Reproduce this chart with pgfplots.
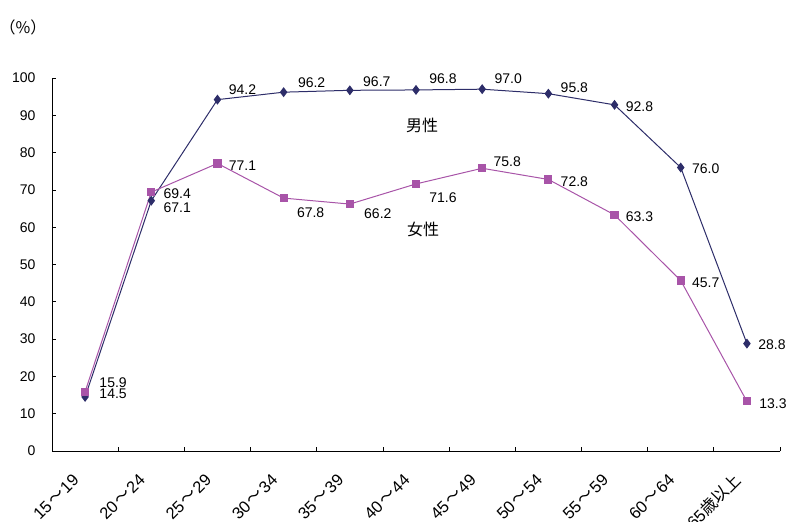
\documentclass[border=0pt]{standalone}
\usepackage{fontspec}
\setmainfont{Liberation Sans}
\newfontfamily\cjk{Noto Sans CJK JP}
\usepackage{pgfplots}
\usepackage{pgfplotstable}
\pgfplotsset{compat=1.18}

\definecolor{male}{RGB}{45,45,105}
\definecolor{female}{RGB}{168,84,168}

% labour force participation rate by age group
\pgfplotstableread{
x male female
0 14.5 15.9
1 67.1 69.4
2 94.2 77.1
3 96.2 67.8
4 96.7 66.2
5 96.8 71.6
6 97.0 75.8
7 95.8 72.8
8 92.8 63.3
9 76.0 45.7
10 28.8 13.3
}\rates

\newcommand{\til}{\hspace{1.5bp}{\cjk ～}\hspace{1.5bp}}

\begin{document}
\begin{tikzpicture}[lbl/.style={font=\fontsize{14bp}{16bp}\selectfont, inner sep=0pt},
  cat/.style={font=\fontsize{16.5bp}{18bp}\selectfont, inner sep=0pt, anchor=east, rotate=45}]
\useasboundingbox (0,0) rectangle (788bp,-522bp);
\begin{axis}[
scale only axis, width=728bp, height=373bp,
anchor=south west, at={(52bp,-451bp)},
xmin=-0.5, xmax=10.5, ymin=0, ymax=100,
axis x line=bottom, axis y line=left,
axis line style={-, line width=1bp, black},
tick align=inside, major tick length=4.5bp,
every tick/.style={black, line width=0.8bp},
ytick={0,10,...,100},
xtick={-0.5,0.5,...,10.5}, xticklabels={},
y tick label style={font=\fontsize{14bp}{16bp}\selectfont, xshift=-13bp},
/pgf/number format/assume math mode=true,
clip=false,
]
\addplot[color=male, line width=1bp, mark=diamond*, mark size=4.2bp, mark options={fill=male}] table[x=x, y=male] {\rates};
\addplot[color=female, line width=1bp, mark=square*, mark size=3.6bp, mark options={fill=female}] table[x=x, y=female] {\rates};

% category names under the axis
\node[cat] at ([xshift=-9bp,yshift=-26bp]axis cs:0,0) {15\til 19};
\node[cat] at ([xshift=-9bp,yshift=-26bp]axis cs:1,0) {20\til 24};
\node[cat] at ([xshift=-9bp,yshift=-26bp]axis cs:2,0) {25\til 29};
\node[cat] at ([xshift=-9bp,yshift=-26bp]axis cs:3,0) {30\til 34};
\node[cat] at ([xshift=-9bp,yshift=-26bp]axis cs:4,0) {35\til 39};
\node[cat] at ([xshift=-9bp,yshift=-26bp]axis cs:5,0) {40\til 44};
\node[cat] at ([xshift=-9bp,yshift=-26bp]axis cs:6,0) {45\til 49};
\node[cat] at ([xshift=-9bp,yshift=-26bp]axis cs:7,0) {50\til 54};
\node[cat] at ([xshift=-9bp,yshift=-26bp]axis cs:8,0) {55\til 59};
\node[cat] at ([xshift=-9bp,yshift=-26bp]axis cs:9,0) {60\til 64};
\node[cat] at ([xshift=-9bp,yshift=-26bp]axis cs:10,0) {65{\cjk 歳以上}};

% male value labels
\node[lbl, xshift=28bp, yshift=3bp] at (axis cs:0,14.5) {14.5};
\node[lbl, xshift=26bp, yshift=-7bp] at (axis cs:1,67.1) {67.1};
\node[lbl, xshift=25bp, yshift=10bp] at (axis cs:2,94.2) {94.2};
\node[lbl, xshift=28bp, yshift=9bp] at (axis cs:3,96.2) {96.2};
\node[lbl, xshift=27bp, yshift=9bp] at (axis cs:4,96.7) {96.7};
\node[lbl, xshift=27bp, yshift=11bp] at (axis cs:5,96.8) {96.8};
\node[lbl, xshift=26bp, yshift=11bp] at (axis cs:6,97.0) {97.0};
\node[lbl, xshift=26bp, yshift=6bp] at (axis cs:7,95.8) {95.8};
\node[lbl, xshift=25bp, yshift=-2bp] at (axis cs:8,92.8) {92.8};
\node[lbl, xshift=25bp, yshift=-1bp] at (axis cs:9,76.0) {76.0};
\node[lbl, xshift=25bp, yshift=-1bp] at (axis cs:10,28.8) {28.8};
% female value labels
\node[lbl, xshift=28bp, yshift=9bp] at (axis cs:0,15.9) {15.9};
\node[lbl, xshift=26bp, yshift=-2bp] at (axis cs:1,69.4) {69.4};
\node[lbl, xshift=25bp, yshift=-2bp] at (axis cs:2,77.1) {77.1};
\node[lbl, xshift=27bp, yshift=-15bp] at (axis cs:3,67.8) {67.8};
\node[lbl, xshift=28bp, yshift=-10bp] at (axis cs:4,66.2) {66.2};
\node[lbl, xshift=27bp, yshift=-14bp] at (axis cs:5,71.6) {71.6};
\node[lbl, xshift=25bp, yshift=7bp] at (axis cs:6,75.8) {75.8};
\node[lbl, xshift=26bp, yshift=-2bp] at (axis cs:7,72.8) {72.8};
\node[lbl, xshift=25bp, yshift=-2bp] at (axis cs:8,63.3) {63.3};
\node[lbl, xshift=25bp, yshift=-2bp] at (axis cs:9,45.7) {45.7};
\node[lbl, xshift=26bp, yshift=-2bp] at (axis cs:10,13.3) {13.3};
\end{axis}

\node[font=\cjk\fontsize{16bp}{18bp}\selectfont, inner sep=0pt] at (422bp,-125bp) {男性};
\node[font=\cjk\fontsize{16bp}{18bp}\selectfont, inner sep=0pt] at (423bp,-229bp) {女性};
\node[font=\cjk\fontsize{16bp}{18bp}\selectfont, inner sep=0pt] at (23bp,-27bp) {（\%）};
\end{tikzpicture}
\end{document}
